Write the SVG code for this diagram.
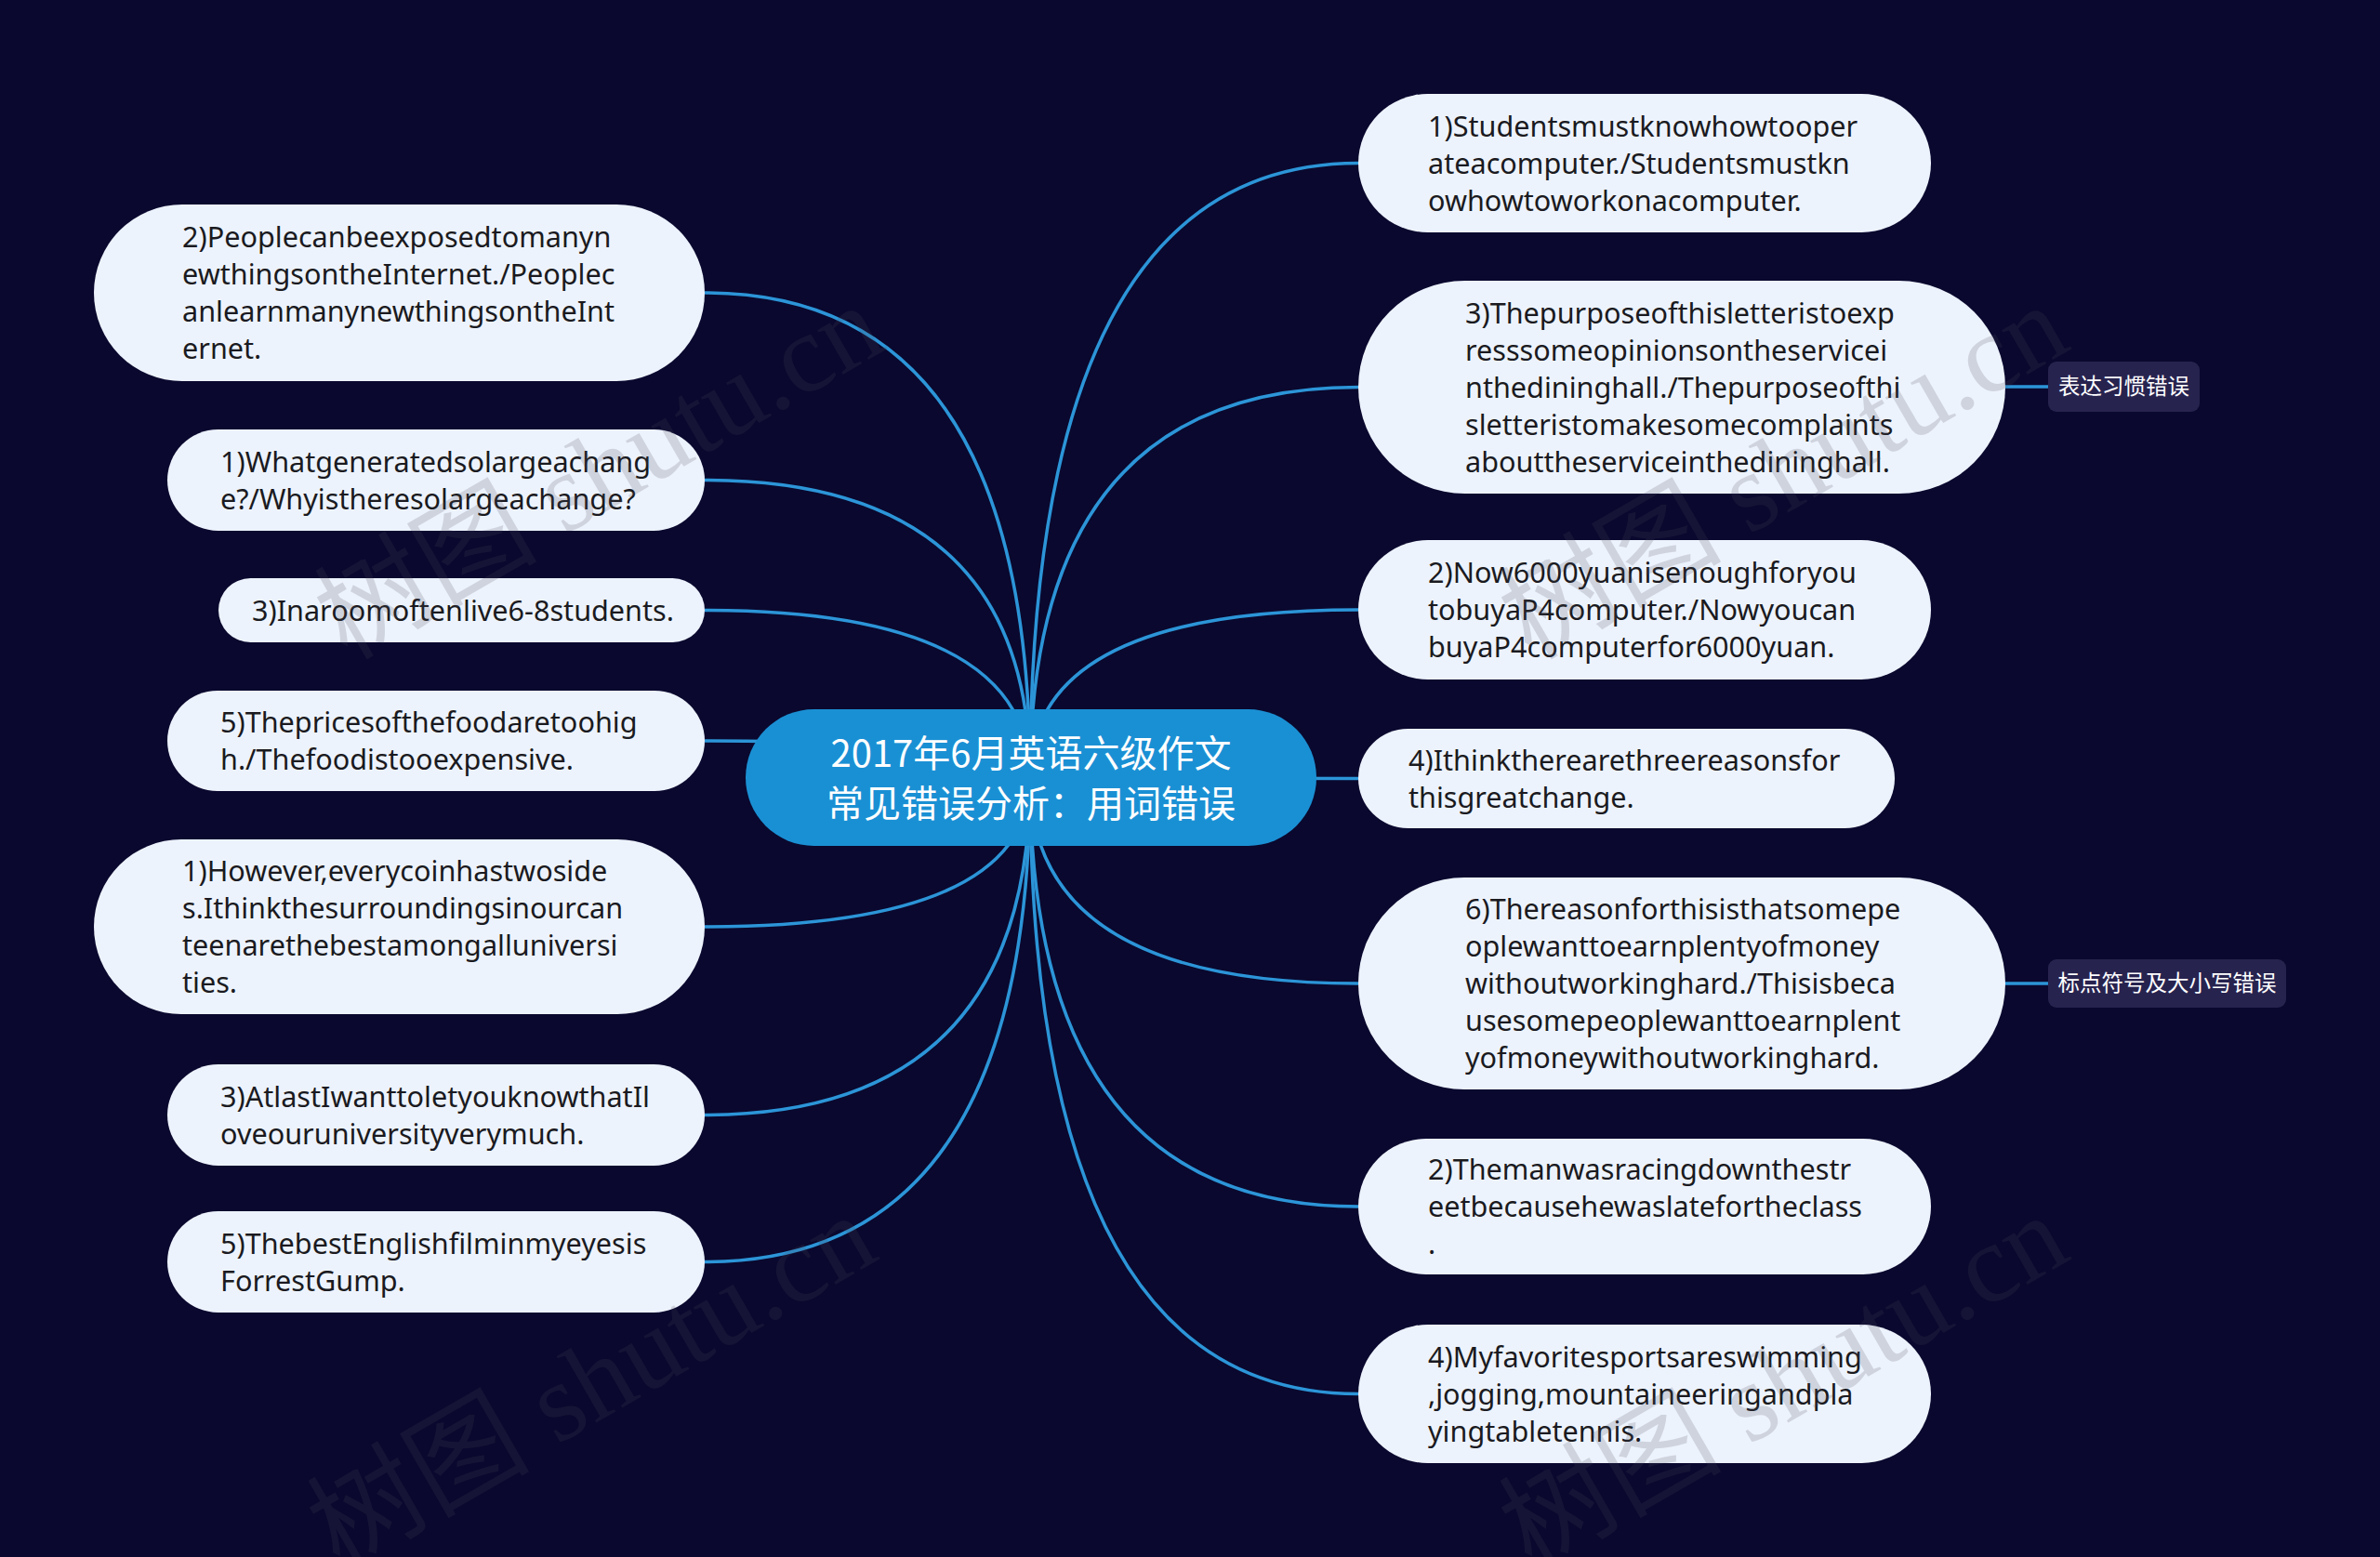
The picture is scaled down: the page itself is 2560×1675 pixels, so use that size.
<svg xmlns="http://www.w3.org/2000/svg" width="2560" height="1675" viewBox="0 0 2560 1675">
<defs>
<style>
.bg{fill:#0a082e}
.node rect{fill:#edf3fd}
.node text{font-family:"Noto Sans","Open Sans","Liberation Sans",sans-serif;font-size:30.6px;fill:#1a1a20}
.root rect{fill:#1a90d4}
.root text{font-family:"Noto Sans CJK SC","Noto Sans",sans-serif;font-size:40px;fill:#ffffff;text-anchor:middle}
.tag rect{fill:#27234f}
.tag text{font-family:"Noto Sans CJK SC","Noto Sans",sans-serif;font-size:23.5px;fill:#ffffff;text-anchor:middle}
.conn path{fill:none;stroke:#2c95d8;stroke-width:3.5}
.wm{font-family:"Liberation Serif","Noto Sans CJK SC",serif;font-size:120px;fill:#4a4a5c;fill-opacity:0.19}
</style>
</defs>
<rect class="bg" x="0" y="0" width="2560" height="1675"/>

<g id="connectors" class="conn">
<path d="M1108 837 Q1108 315 758 315"/>
<path d="M1108 837 Q1108 516.5 758 516.5"/>
<path d="M1108 837 Q1108 656.5 758 656.5"/>
<path d="M1108 837 Q1108 797 758 797"/>
<path d="M1108 837 Q1108 997 758 997"/>
<path d="M1108 837 Q1108 1199.5 758 1199.5"/>
<path d="M1108 837 Q1108 1357.5 758 1357.5"/>
<path d="M1108 837 Q1108 175.5 1461 175.5"/>
<path d="M1108 837 Q1108 416.5 1461 416.5"/>
<path d="M1108 837 Q1108 656 1461 656"/>
<path d="M1108 837 Q1108 837.5 1461 837.5"/>
<path d="M1108 837 Q1108 1058 1461 1058"/>
<path d="M1108 837 Q1108 1298 1461 1298"/>
<path d="M1108 837 Q1108 1499.5 1461 1499.5"/>
<path d="M2157 416 L2203 416"/>
<path d="M2157 1058 L2203 1058"/>
</g>

<g id="root" class="root">
<rect x="802" y="763" width="614" height="147" rx="73.5"/>
<text x="1109" y="825">2017年6月英语六级作文</text>
<text x="1109" y="879">常见错误分析：用词错误</text>
</g>

<g id="L1" class="node">
<rect x="101" y="220" width="657" height="190" rx="95"/>
<text x="196" y="266">2)Peoplecanbeexposedtomanyn</text>
<text x="196" y="306">ewthingsontheInternet./Peoplec</text>
<text x="196" y="346">anlearnmanynewthingsontheInt</text>
<text x="196" y="386">ernet.</text>
</g>
<g id="L2" class="node">
<rect x="180" y="462" width="578" height="109" rx="54.5"/>
<text x="237" y="507.5">1)Whatgeneratedsolargeachang</text>
<text x="237" y="547.5">e?/Whyistheresolargeachange?</text>
</g>
<g id="L3" class="node">
<rect x="235" y="622" width="523" height="69" rx="34.5"/>
<text x="271" y="667.5">3)Inaroomoftenlive6-8students.</text>
</g>
<g id="L4" class="node">
<rect x="180" y="743" width="578" height="108" rx="54"/>
<text x="237" y="788">5)Thepricesofthefoodaretoohig</text>
<text x="237" y="828">h./Thefoodistooexpensive.</text>
</g>
<g id="L5" class="node">
<rect x="101" y="903" width="657" height="188" rx="94"/>
<text x="196" y="948">1)However,everycoinhastwoside</text>
<text x="196" y="988">s.Ithinkthesurroundingsinourcan</text>
<text x="196" y="1028">teenarethebestamongalluniversi</text>
<text x="196" y="1068">ties.</text>
</g>
<g id="L6" class="node">
<rect x="180" y="1145" width="578" height="109" rx="54.5"/>
<text x="237" y="1190.5">3)AtlastIwanttoletyouknowthatIl</text>
<text x="237" y="1230.5">oveouruniversityverymuch.</text>
</g>
<g id="L7" class="node">
<rect x="180" y="1303" width="578" height="109" rx="54.5"/>
<text x="237" y="1348.5">5)ThebestEnglishfilminmyeyesis</text>
<text x="237" y="1388.5">ForrestGump.</text>
</g>

<g id="R1" class="node">
<rect x="1461" y="101" width="616" height="149" rx="74.5"/>
<text x="1536" y="146.5">1)Studentsmustknowhowtooper</text>
<text x="1536" y="186.5">ateacomputer./Studentsmustkn</text>
<text x="1536" y="226.5">owhowtoworkonacomputer.</text>
</g>
<g id="R2" class="node">
<rect x="1461" y="302" width="696" height="229" rx="114.5"/>
<text x="1576" y="347.5">3)Thepurposeofthisletteristoexp</text>
<text x="1576" y="387.5">resssomeopinionsontheservicei</text>
<text x="1576" y="427.5">nthedininghall./Thepurposeofthi</text>
<text x="1576" y="467.5">sletteristomakesomecomplaints</text>
<text x="1576" y="507.5">abouttheserviceinthedininghall.</text>
</g>
<g id="R3" class="node">
<rect x="1461" y="581" width="616" height="150" rx="75"/>
<text x="1536" y="627">2)Now6000yuanisenoughforyou</text>
<text x="1536" y="667">tobuyaP4computer./Nowyoucan</text>
<text x="1536" y="707">buyaP4computerfor6000yuan.</text>
</g>
<g id="R4" class="node">
<rect x="1461" y="784" width="577" height="107" rx="53.5"/>
<text x="1515" y="828.5">4)Ithinktherearethreereasonsfor</text>
<text x="1515" y="868.5">thisgreatchange.</text>
</g>
<g id="R5" class="node">
<rect x="1461" y="944" width="696" height="228" rx="114"/>
<text x="1576" y="989">6)Thereasonforthisisthatsomepe</text>
<text x="1576" y="1029">oplewanttoearnplentyofmoney</text>
<text x="1576" y="1069">withoutworkinghard./Thisisbeca</text>
<text x="1576" y="1109">usesomepeoplewanttoearnplent</text>
<text x="1576" y="1149">yofmoneywithoutworkinghard.</text>
</g>
<g id="R6" class="node">
<rect x="1461" y="1225" width="616" height="146" rx="73"/>
<text x="1536" y="1269">2)Themanwasracingdownthestr</text>
<text x="1536" y="1309">eetbecausehewaslatefortheclass</text>
<text x="1536" y="1349">.</text>
</g>
<g id="R7" class="node">
<rect x="1461" y="1425" width="616" height="149" rx="74.5"/>
<text x="1536" y="1470.5">4)Myfavoritesportsareswimming</text>
<text x="1536" y="1510.5">,jogging,mountaineeringandpla</text>
<text x="1536" y="1550.5">yingtabletennis.</text>
</g>

<g id="T1" class="tag">
<rect x="2203" y="389" width="163" height="54" rx="9"/>
<text x="2284.5" y="424">表达习惯错误</text>
</g>
<g id="T2" class="tag">
<rect x="2203" y="1032" width="256" height="52" rx="9"/>
<text x="2331" y="1066">标点符号及大小写错误</text>
</g>

<g id="watermarks">
<text class="wm" transform="translate(373 711) rotate(-30)">树图 shutu.cn</text>
<text class="wm" transform="translate(1647 711) rotate(-30)">树图 shutu.cn</text>
<text class="wm" transform="translate(365 1690) rotate(-30)">树图 shutu.cn</text>
<text class="wm" transform="translate(1647 1690) rotate(-30)">树图 shutu.cn</text>
</g>
</svg>
